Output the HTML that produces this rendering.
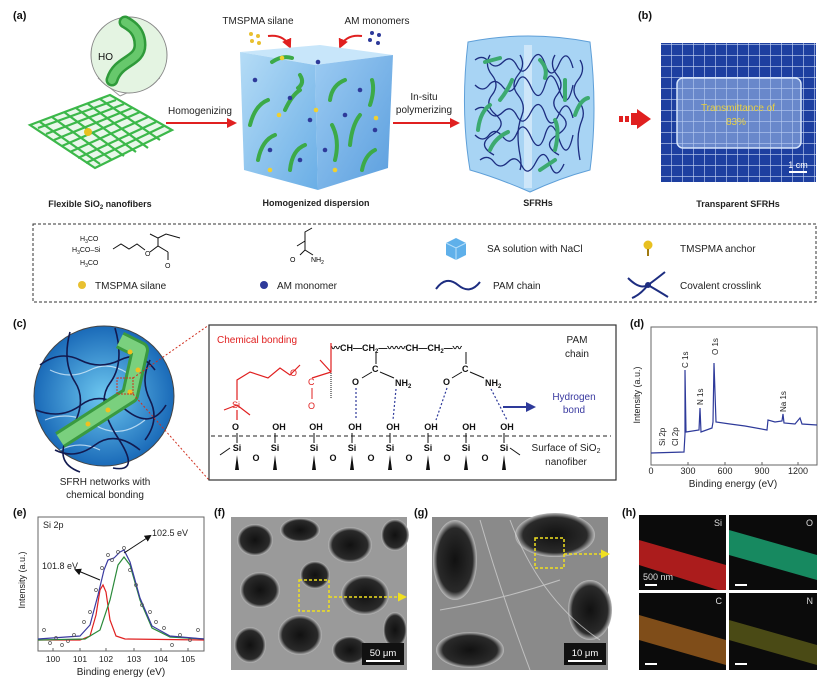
<!DOCTYPE html>
<html><head><meta charset="utf-8"><style>
html,body{margin:0;padding:0;background:#fff}
svg{display:block}
text{font-family:"Liberation Sans",Arial,sans-serif}
</style></head><body>
<svg width="826" height="681" viewBox="0 0 826 681" xmlns="http://www.w3.org/2000/svg">
<defs>
<pattern id="grid" width="11" height="11" patternUnits="userSpaceOnUse"><rect width="11" height="11" fill="#1d3fa0"/><path d="M0 0H11M0 0V11" stroke="#c9d6f5" stroke-width="1.2"/></pattern>
<linearGradient id="cubeF" x1="0" y1="0" x2="1" y2="1"><stop offset="0" stop-color="#b5dcf6"/><stop offset="1" stop-color="#6aaee6"/></linearGradient>
<linearGradient id="cubeS" x1="0" y1="0" x2="1" y2="1"><stop offset="0" stop-color="#9ccbf2"/><stop offset="1" stop-color="#5a9ede"/></linearGradient>
<radialGradient id="water" cx="0.5" cy="0.5" r="0.5"><stop offset="0" stop-color="#6ec8f0"/><stop offset="1" stop-color="#1a6ab8"/></radialGradient>
<radialGradient id="hole" cx="0.5" cy="0.5" r="0.5"><stop offset="0" stop-color="#111"/><stop offset="0.8" stop-color="#2a2a2a"/><stop offset="1" stop-color="#bbb"/></radialGradient>
<marker id="ra" markerUnits="userSpaceOnUse" markerWidth="10" markerHeight="10" refX="8" refY="5" orient="auto"><path d="M0,0 L10,5 L0,10 z" fill="#e02020"/></marker>
<marker id="ba" markerUnits="userSpaceOnUse" markerWidth="10" markerHeight="10" refX="8" refY="5" orient="auto"><path d="M0,0 L10,5 L0,10 z" fill="#2e3a9a"/></marker>
<marker id="ka" markerUnits="userSpaceOnUse" markerWidth="7" markerHeight="7" refX="5" refY="3.5" orient="auto"><path d="M0,0 L7,3.5 L0,7 z" fill="#111"/></marker>
<marker id="ya" markerUnits="userSpaceOnUse" markerWidth="9" markerHeight="9" refX="7" refY="4.5" orient="auto"><path d="M0,0 L9,4.5 L0,9 z" fill="#f0e020"/></marker>
</defs>

<g font-size="11" font-weight="bold" fill="#111">
<text x="13" y="19">(a)</text><text x="638" y="19">(b)</text>
<text x="13" y="327">(c)</text><text x="630" y="327">(d)</text>
<text x="13" y="516">(e)</text><text x="214" y="516">(f)</text>
<text x="414" y="516">(g)</text><text x="622" y="516">(h)</text>
</g>

<g stroke="#3cb84a" stroke-width="2.2" fill="none">
<path d="M30 125 L110 95 L172 130 L95 168 Z" fill="#bfe9c2" fill-opacity="0.35"/>
<path d="M38 128 L116 100 M46 134 L124 104 M54 140 L132 108 M62 146 L140 112 M70 152 L148 117 M78 158 L156 122 M86 163 L164 126"/>
<path d="M40 122 L100 164 M52 117 L112 160 M64 112 L124 156 M76 108 L136 152 M88 104 L148 148 M100 99 L160 140"/>
</g>
<circle cx="88" cy="132" r="4" fill="#e8c020"/>
<path d="M98 78 L120 96 M160 78 L120 96" stroke="#999" stroke-width="1"/>
<circle cx="129" cy="55" r="38" fill="#e4f4e2" stroke="#888" stroke-width="1"/>
<path d="M112 80 C118 60,140 62,140 45 C140 30,130 25,125 22" stroke="#2f9a3a" stroke-width="13" fill="none" stroke-linecap="round"/>
<path d="M112 80 C118 60,140 62,140 45 C140 30,130 25,125 22" stroke="#67c86c" stroke-width="8" fill="none" stroke-linecap="round"/>
<text x="98" y="60" font-size="10" fill="#111">HO</text>
<text x="100" y="207" font-size="9" font-weight="bold" text-anchor="middle" fill="#222">Flexible SiO<tspan font-size="6" dy="2">2</tspan><tspan dy="-2"> nanofibers</tspan></text>

<text x="200" y="114" font-size="10" text-anchor="middle" fill="#222">Homogenizing</text>
<line x1="166" y1="123" x2="235" y2="123" stroke="#e02020" stroke-width="2" marker-end="url(#ra)"/>

<text x="258" y="24" font-size="10" text-anchor="middle" fill="#222">TMSPMA silane</text>
<text x="377" y="24" font-size="10" text-anchor="middle" fill="#222">AM monomers</text>
<g fill="#e8c030"><circle cx="251" cy="34" r="2"/><circle cx="258" cy="36" r="2"/><circle cx="252" cy="41" r="2"/><circle cx="259" cy="43" r="2"/></g>
<g fill="#2e3a9a"><circle cx="372" cy="33" r="2"/><circle cx="379" cy="35" r="2"/><circle cx="370" cy="40" r="2"/><circle cx="378" cy="43" r="2"/></g>
<path d="M268 36 Q284 34 290 47" stroke="#e02020" stroke-width="2" fill="none" marker-end="url(#ra)"/>
<path d="M362 36 Q346 34 340 47" stroke="#e02020" stroke-width="2" fill="none" marker-end="url(#ra)"/>
<path d="M240 52 L320 45 L393 55 L315 65 Z" fill="#c8e6fa"/>
<path d="M240 52 L315 65 L318 190 L244 170 Z" fill="url(#cubeF)"/>
<path d="M315 65 L393 55 L388 168 L318 190 Z" fill="url(#cubeS)"/>
<g stroke="#3caa48" stroke-width="4" fill="none" stroke-linecap="round">
<path d="M272 62 Q282 55 292 58"/><path d="M300 75 Q305 83 298 88"/><path d="M250 125 Q255 105 268 100"/><path d="M285 110 Q292 95 300 90"/>
<path d="M258 160 Q262 140 275 135"/><path d="M290 170 Q292 150 305 145"/><path d="M330 100 Q332 85 345 80"/><path d="M350 145 Q352 125 360 115"/>
<path d="M335 160 Q340 140 332 125"/><path d="M370 105 Q375 90 372 80"/><path d="M362 170 Q365 155 375 150"/>
</g>
<g fill="#2e3a9a"><circle cx="255" cy="80" r="2.3"/><circle cx="290" cy="98" r="2.3"/><circle cx="310" cy="120" r="2.3"/><circle cx="270" cy="150" r="2.3"/><circle cx="345" cy="115" r="2.3"/><circle cx="375" cy="130" r="2.3"/><circle cx="325" cy="150" r="2.3"/><circle cx="300" cy="160" r="2.3"/><circle cx="360" cy="90" r="2.3"/><circle cx="318" cy="62" r="2.3"/></g>
<g fill="#f0d030"><circle cx="282" cy="58" r="2.3"/><circle cx="316" cy="110" r="2.3"/><circle cx="279" cy="115" r="2.3"/><circle cx="376" cy="118" r="2.3"/><circle cx="335" cy="170" r="2.3"/><circle cx="270" cy="170" r="2.3"/></g>
<text x="316" y="206" font-size="9" font-weight="bold" text-anchor="middle" fill="#222">Homogenized dispersion</text>

<text x="424" y="100" font-size="10" text-anchor="middle" fill="#222">In-situ</text>
<text x="424" y="113" font-size="10" text-anchor="middle" fill="#222">polymerizing</text>
<line x1="393" y1="123" x2="458" y2="123" stroke="#e02020" stroke-width="2" marker-end="url(#ra)"/>

<path d="M468 42 Q528 30 590 42 Q598 110 590 170 Q560 178 530 192 Q498 178 470 170 Q460 110 468 42Z" fill="#a8d4f4" stroke="#5e9fd8" stroke-width="1"/>
<path d="M528 45 L528 188" stroke="#e6f3fd" stroke-width="8" opacity="0.6"/>
<g stroke="#1d2d80" stroke-width="1.3" fill="none">
<path d="M475 60 q8 -6 14 2 t14 0 t14 4 t14 -4 t14 2 t14 0 t14 4"/>
<path d="M475 85 q8 8 14 0 t14 2 t14 -4 t14 4 t14 -2 t14 4 t14 -4"/>
<path d="M475 110 q8 -6 14 2 t14 0 t14 4 t14 -4 t14 2 t14 0 t14 4"/>
<path d="M475 135 q8 8 14 0 t14 2 t14 -4 t14 4 t14 -2 t14 4 t14 -4"/>
<path d="M480 160 q8 -6 14 2 t14 0 t14 4 t14 -4 t14 2 t14 0"/>
<path d="M490 55 q-6 10 2 20 t0 20 t4 20 t-4 20 t2 20"/>
<path d="M520 55 q6 10 -2 20 t0 20 t4 20 t-4 20 t2 20 t0 15"/>
<path d="M555 55 q-6 10 2 20 t0 20 t4 20 t-4 20 t2 20"/>
<path d="M580 60 q6 10 -2 20 t0 20 t4 20 t-4 20 t2 20"/>
</g>
<g stroke="#3caa70" stroke-width="4" fill="none" stroke-linecap="round">
<path d="M485 62 L500 58"/><path d="M540 60 Q548 68 545 78"/><path d="M500 100 Q508 90 512 80"/><path d="M478 130 Q480 112 490 105"/>
<path d="M565 80 L565 100"/><path d="M575 115 Q580 100 588 98"/><path d="M490 150 Q495 138 508 132"/><path d="M555 150 Q560 130 555 120"/><path d="M540 170 L555 160"/>
</g>
<text x="538" y="206" font-size="9" font-weight="bold" text-anchor="middle" fill="#222">SFRHs</text>

<path d="M619 116 h4 v6 h-4z M625 116 h4 v6 h-4z M631 113 h6 v-4 l14 10 l-14 10 v-4 h-6z" fill="#e02020"/>
<rect x="661" y="43" width="155" height="139" fill="url(#grid)"/>
<rect x="677" y="78" width="124" height="70" rx="6" fill="#a8c4ee" fill-opacity="0.55" stroke="#d7e6fb" stroke-width="1.5"/>
<text x="738" y="111" font-size="10" text-anchor="middle" fill="#e8d040">Transmittance of</text>
<text x="736" y="125" font-size="10" text-anchor="middle" fill="#e8d040">83%</text>
<text x="798" y="168" font-size="9" text-anchor="middle" fill="#fff">1 cm</text>
<line x1="789" y1="172" x2="807" y2="172" stroke="#fff" stroke-width="2"/>
<text x="738" y="207" font-size="9" font-weight="bold" text-anchor="middle" fill="#222">Transparent SFRHs</text>

<rect x="33" y="224" width="783" height="78" fill="none" stroke="#333" stroke-width="1" stroke-dasharray="3,2"/>
<g font-size="7" fill="#111">
<text x="80" y="241">H<tspan font-size="5" dy="2">3</tspan><tspan dy="-2">CO</tspan></text>
<text x="72" y="252">H<tspan font-size="5" dy="2">3</tspan><tspan dy="-2">CO–Si</tspan></text>
<text x="80" y="265">H<tspan font-size="5" dy="2">3</tspan><tspan dy="-2">CO</tspan></text>
<text x="145" y="256">O</text><text x="165" y="268">O</text>
</g>
<path d="M113 249 L121 244 L129 249 L137 244 L145 250 M150 252 L158 246 L168 252 M158 246 L158 238 L150 234 M158 238 L166 234 L180 238 M168 252 L168 260" stroke="#111" stroke-width="1" fill="none"/>
<path d="M297 246 L305 241 L305 232 L312 228 M300 255 L305 250 L313 255 M305 250 L305 241" stroke="#111" stroke-width="1" fill="none"/>
<text x="290" y="262" font-size="7">O</text><text x="311" y="262" font-size="7">NH<tspan font-size="5" dy="2">2</tspan></text>
<circle cx="82" cy="285" r="4" fill="#e8c030"/>
<text x="95" y="289" font-size="10" fill="#222">TMSPMA silane</text>
<circle cx="264" cy="285" r="4" fill="#2e3a9a"/>
<text x="277" y="289" font-size="10" fill="#222">AM monomer</text>
<path d="M446 243 L456 238 L466 243 L466 255 L456 260 L446 255Z" fill="#5fb0ea"/><path d="M446 243 L456 248 L466 243 M456 248 V260" stroke="#b8e0fa" fill="none"/>
<text x="487" y="252" font-size="10" fill="#222">SA solution with NaCl</text>
<path d="M436 289 Q446 275 458 285 T480 282" stroke="#1d2d80" stroke-width="2" fill="none"/>
<text x="493" y="289" font-size="10" fill="#222">PAM chain</text>
<circle cx="648" cy="245" r="4.5" fill="#e8c020"/><line x1="648" y1="249" x2="648" y2="256" stroke="#a07a10" stroke-width="2"/>
<text x="680" y="252" font-size="10" fill="#222">TMSPMA anchor</text>
<path d="M628 278 Q640 290 648 285 Q655 280 665 272 M648 285 Q640 295 632 298 M648 285 Q660 292 668 297" stroke="#1d2d80" stroke-width="2" fill="none"/><circle cx="648" cy="285" r="3" fill="#1d2d80"/>
<text x="680" y="289" font-size="10" fill="#222">Covalent crosslink</text>

<circle cx="104" cy="396" r="70" fill="url(#water)" stroke="#444" stroke-width="1"/>
<g stroke="#e8f6ff" stroke-width="1.2" fill="none" opacity="0.7"><path d="M50 370 q20 10 40 0 t40 5"/><path d="M45 420 q25 -10 50 5 t50 -5"/><path d="M60 450 q20 -10 40 0"/></g>
<g stroke="#121a50" stroke-width="1.6" fill="none">
<path d="M40 365 q20 -15 40 -5 t40 0 t35 10"/><path d="M36 410 q25 10 45 -5 t45 5 t40 -5"/><path d="M55 450 q20 10 40 -5 t45 5"/>
<path d="M70 332 q-8 30 5 50 t-5 50 t10 40"/><path d="M115 328 q10 35 -5 55 t8 55 t-5 30"/><path d="M150 360 q-10 20 0 40 t-5 40"/>
</g>
<path d="M60 440 L130 395 L140 350 L120 340" stroke="#3a9a40" stroke-width="18" fill="none" stroke-linejoin="round"/>
<path d="M60 440 L130 395 L140 350 L120 340" stroke="#7ad07e" stroke-width="12" fill="none" stroke-linejoin="round"/>
<g fill="#f0c020"><circle cx="88" cy="424" r="2.5"/><circle cx="108" cy="410" r="2.5"/><circle cx="130" cy="392" r="2.5"/><circle cx="138" cy="370" r="2.5"/><circle cx="130" cy="352" r="2.5"/></g>
<rect x="117" y="378" width="16" height="16" fill="none" stroke="#d03020" stroke-dasharray="2,1"/>
<line x1="133" y1="378" x2="209" y2="325" stroke="#d03020" stroke-dasharray="2,2"/>
<line x1="133" y1="394" x2="209" y2="480" stroke="#d03020" stroke-dasharray="2,2"/>
<text x="105" y="485" font-size="10" text-anchor="middle" fill="#222">SFRH networks with</text>
<text x="105" y="498" font-size="10" text-anchor="middle" fill="#222">chemical bonding</text>

<rect x="209" y="325" width="407" height="155" fill="#fff" stroke="#333" stroke-width="1.2"/>
<text x="217" y="343" font-size="10" fill="#e02020">Chemical bonding</text>
<text x="331" y="351" font-size="9" font-weight="bold" fill="#111">〰CH—CH<tspan font-size="6" dy="2">2</tspan><tspan dy="-2">—〰〰CH—CH</tspan><tspan font-size="6" dy="2">2</tspan><tspan dy="-2">—〰</tspan></text>
<text x="577" y="343" font-size="10" text-anchor="middle" fill="#222">PAM</text>
<text x="577" y="357" font-size="10" text-anchor="middle" fill="#222">chain</text>
<path d="M331 343 L331 398" stroke="#111" stroke-width="1" stroke-dasharray="1,1"/>
<path d="M331 343 L331 372 L312 378 M331 372 L320 360 M300 365 L290 375 L280 368 L268 378 L250 372 L237 380 L237 400 M224 410 L237 405 L250 415 M237 410 L237 420" stroke="#e02020" stroke-width="1.2" fill="none"/>
<text x="290" y="376" font-size="9" fill="#e02020">O</text>
<text x="308" y="385" font-size="9" fill="#e02020">C</text>
<text x="308" y="409" font-size="9" fill="#e02020">O</text>
<line x1="312" y1="388" x2="312" y2="399" stroke="#e02020"/>
<text x="232" y="408" font-size="9" fill="#e02020">Si</text>
<text x="232" y="430" font-size="9" font-weight="bold" fill="#111">O</text>
<g stroke="#111" stroke-width="1"><line x1="376" y1="352" x2="376" y2="364"/><line x1="466" y1="352" x2="466" y2="364"/><line x1="372" y1="372" x2="362" y2="378"/><line x1="380" y1="372" x2="394" y2="378"/><line x1="462" y1="372" x2="452" y2="378"/><line x1="470" y1="372" x2="484" y2="378"/></g>
<g font-size="9" font-weight="bold" fill="#111">
<text x="372" y="372">C</text><text x="462" y="372">C</text>
<text x="352" y="385">O</text><text x="395" y="386">NH<tspan font-size="6" dy="2">2</tspan></text>
<text x="443" y="385">O</text><text x="485" y="386">NH<tspan font-size="6" dy="2">2</tspan></text>
</g>
<g stroke="#2e3a9a" stroke-width="1.2" stroke-dasharray="2,2"><line x1="356" y1="388" x2="356" y2="420"/><line x1="396" y1="389" x2="393" y2="420"/><line x1="447" y1="388" x2="436" y2="420"/><line x1="491" y1="389" x2="507" y2="420"/></g>
<text x="574" y="400" font-size="10" text-anchor="middle" fill="#3a3aa0">Hydrogen</text>
<text x="574" y="413" font-size="10" text-anchor="middle" fill="#3a3aa0">bond</text>
<line x1="503" y1="407" x2="534" y2="407" stroke="#2e3a9a" stroke-width="2" marker-end="url(#ba)"/>
<g font-size="9" font-weight="bold" fill="#111" text-anchor="middle">
<text x="279" y="430">OH</text><text x="316" y="430">OH</text><text x="355" y="430">OH</text><text x="393" y="430">OH</text><text x="431" y="430">OH</text><text x="469" y="430">OH</text><text x="507" y="430">OH</text>
</g>
<line x1="211" y1="436" x2="611" y2="436" stroke="#222" stroke-dasharray="4,3"/>
<g font-size="9" font-weight="bold" fill="#111" text-anchor="middle">
<text x="237" y="451">Si</text><text x="275" y="451">Si</text><text x="314" y="451">Si</text><text x="352" y="451">Si</text><text x="390" y="451">Si</text><text x="428" y="451">Si</text><text x="466" y="451">Si</text><text x="504" y="451">Si</text>
<text x="256" y="461">O</text><text x="333" y="461">O</text><text x="371" y="461">O</text><text x="409" y="461">O</text><text x="447" y="461">O</text><text x="485" y="461">O</text>
</g>
<g fill="#111"><path d="M235 470 L239 470 L237 455Z"/><path d="M273 470 L277 470 L275 455Z"/><path d="M312 470 L316 470 L314 455Z"/><path d="M350 470 L354 470 L352 455Z"/><path d="M388 470 L392 470 L390 455Z"/><path d="M426 470 L430 470 L428 455Z"/><path d="M464 470 L468 470 L466 455Z"/><path d="M502 470 L506 470 L504 455Z"/></g>
<g stroke="#111" stroke-width="1"><line x1="237" y1="433" x2="237" y2="443"/><line x1="275" y1="433" x2="275" y2="443"/><line x1="314" y1="433" x2="314" y2="443"/><line x1="352" y1="433" x2="352" y2="443"/><line x1="390" y1="433" x2="390" y2="443"/><line x1="428" y1="433" x2="428" y2="443"/><line x1="466" y1="433" x2="466" y2="443"/><line x1="504" y1="433" x2="504" y2="443"/><line x1="220" y1="455" x2="230" y2="448"/><line x1="510" y1="448" x2="520" y2="455"/></g>
<text x="566" y="451" font-size="10" text-anchor="middle" fill="#222">Surface of SiO<tspan font-size="7" dy="2">2</tspan></text>
<text x="566" y="465" font-size="10" text-anchor="middle" fill="#222">nanofiber</text>

<rect x="651" y="327" width="166" height="138" fill="none" stroke="#666" stroke-width="1"/>
<path d="M651 453 L684 452 L685 434 L685 370 L686 432 L699 430 L700 408 L701 432 L712 428 L713 422 L714 363 L716 422 L730 424 L745 426 L767 430 L768 420 L775 422 L782 421 L783 414 L784 423 L795 424 L800 418 L802 424 L817 425" stroke="#2e3a9a" stroke-width="1.2" fill="none"/>
<g stroke="#666"><line x1="651" y1="465" x2="651" y2="462"/><line x1="688" y1="465" x2="688" y2="462"/><line x1="725" y1="465" x2="725" y2="462"/><line x1="762" y1="465" x2="762" y2="462"/><line x1="798" y1="465" x2="798" y2="462"/></g>
<g font-size="9" fill="#222" text-anchor="middle"><text x="651" y="474">0</text><text x="688" y="474">300</text><text x="725" y="474">600</text><text x="762" y="474">900</text><text x="798" y="474">1200</text></g>
<text x="733" y="487" font-size="10" text-anchor="middle" fill="#222">Binding energy (eV)</text>
<text transform="translate(640,395) rotate(-90)" font-size="9" text-anchor="middle" fill="#222">Intensity (a.u.)</text>
<g font-size="8" fill="#222">
<text transform="translate(665,446) rotate(-90)">Si 2p</text>
<text transform="translate(678,446) rotate(-90)">Cl 2p</text>
<text transform="translate(688,368) rotate(-90)">C 1s</text>
<text transform="translate(703,405) rotate(-90)">N 1s</text>
<text transform="translate(718,355) rotate(-90)">O 1s</text>
<text transform="translate(786,412) rotate(-90)">Na 1s</text>
</g>

<rect x="38" y="517" width="166" height="134" fill="none" stroke="#666" stroke-width="1"/>
<path d="M38 640 L80 640 L90 636 L96 615 L100 590 L103 585 L106 592 L110 620 L116 636 L125 639 L204 640" stroke="#e02020" stroke-width="1.2" fill="none"/>
<path d="M38 640 L85 639 L100 630 L110 600 L118 565 L124 557 L130 565 L140 600 L152 628 L170 637 L204 639" stroke="#2a8a3a" stroke-width="1.2" fill="none"/>
<path d="M38 639 L80 636 L90 625 L98 595 L104 570 L108 560 L114 558 L120 552 L124 550 L130 562 L140 598 L152 626 L170 636 L204 639" stroke="#3a3aa0" stroke-width="1.2" fill="none"/>
<g fill="none" stroke="#555" stroke-width="0.7">
<circle cx="44" cy="630" r="1.5"/><circle cx="50" cy="643" r="1.5"/><circle cx="56" cy="638" r="1.5"/><circle cx="62" cy="645" r="1.5"/><circle cx="68" cy="641" r="1.5"/><circle cx="74" cy="635" r="1.5"/><circle cx="84" cy="622" r="1.5"/><circle cx="90" cy="612" r="1.5"/><circle cx="96" cy="590" r="1.5"/><circle cx="102" cy="568" r="1.5"/><circle cx="108" cy="555" r="1.5"/><circle cx="112" cy="560" r="1.5"/><circle cx="118" cy="552" r="1.5"/><circle cx="124" cy="548" r="1.5"/><circle cx="130" cy="570" r="1.5"/><circle cx="136" cy="585" r="1.5"/><circle cx="142" cy="605" r="1.5"/><circle cx="150" cy="612" r="1.5"/><circle cx="156" cy="622" r="1.5"/><circle cx="164" cy="628" r="1.5"/><circle cx="172" cy="645" r="1.5"/><circle cx="180" cy="635" r="1.5"/><circle cx="190" cy="640" r="1.5"/><circle cx="198" cy="630" r="1.5"/>
</g>
<line x1="100" y1="580" x2="76" y2="570" stroke="#111" marker-end="url(#ka)"/>
<line x1="124" y1="553" x2="150" y2="536" stroke="#111" marker-end="url(#ka)"/>
<text x="43" y="528" font-size="9" fill="#222">Si 2p</text>
<text x="152" y="536" font-size="9" fill="#222">102.5 eV</text>
<text x="42" y="569" font-size="9" fill="#222">101.8 eV</text>
<g stroke="#666"><line x1="53" y1="651" x2="53" y2="648"/><line x1="80" y1="651" x2="80" y2="648"/><line x1="106" y1="651" x2="106" y2="648"/><line x1="134" y1="651" x2="134" y2="648"/><line x1="161" y1="651" x2="161" y2="648"/><line x1="188" y1="651" x2="188" y2="648"/></g>
<g font-size="8.5" fill="#222" text-anchor="middle"><text x="53" y="662">100</text><text x="80" y="662">101</text><text x="106" y="662">102</text><text x="134" y="662">103</text><text x="161" y="662">104</text><text x="188" y="662">105</text></g>
<text x="121" y="675" font-size="10" text-anchor="middle" fill="#222">Binding energy (eV)</text>
<text transform="translate(25,580) rotate(-90)" font-size="9" text-anchor="middle" fill="#222">Intensity (a.u.)</text>

<rect x="231" y="517" width="176" height="153" fill="#9a9a9a"/>
<g fill="url(#hole)">
<ellipse cx="255" cy="540" rx="18" ry="16"/><ellipse cx="300" cy="530" rx="20" ry="12"/><ellipse cx="350" cy="545" rx="22" ry="18"/><ellipse cx="395" cy="535" rx="14" ry="16"/>
<ellipse cx="260" cy="590" rx="20" ry="18"/><ellipse cx="315" cy="575" rx="15" ry="14"/><ellipse cx="365" cy="595" rx="24" ry="20"/>
<ellipse cx="250" cy="645" rx="16" ry="18"/><ellipse cx="300" cy="635" rx="22" ry="20"/><ellipse cx="350" cy="650" rx="18" ry="14"/><ellipse cx="395" cy="630" rx="12" ry="18"/>
</g>
<rect x="299" y="580" width="30" height="31" fill="none" stroke="#f0e020" stroke-width="1.5" stroke-dasharray="3,2"/>
<line x1="329" y1="597" x2="405" y2="597" stroke="#f0e020" stroke-width="1.5" stroke-dasharray="3,2" marker-end="url(#ya)"/>
<rect x="362" y="643" width="42" height="22" fill="#111"/>
<text x="383" y="656" font-size="9.5" text-anchor="middle" fill="#fff">50 μm</text>
<line x1="366" y1="661" x2="400" y2="661" stroke="#fff" stroke-width="2"/>

<rect x="432" y="517" width="176" height="153" fill="#8a8a8a"/>
<g fill="url(#hole)">
<ellipse cx="455" cy="560" rx="22" ry="40"/><ellipse cx="555" cy="535" rx="40" ry="22"/><ellipse cx="590" cy="610" rx="22" ry="30"/><ellipse cx="470" cy="650" rx="34" ry="18"/>
</g>
<g stroke="#d8d8d8" stroke-width="1" fill="none" opacity="0.7"><path d="M480 520 Q500 590 530 670"/><path d="M510 520 Q540 600 600 640"/><path d="M440 610 Q500 600 560 580"/></g>
<rect x="535" y="538" width="29" height="30" fill="none" stroke="#f0e020" stroke-width="1.5" stroke-dasharray="3,2"/>
<line x1="564" y1="554" x2="608" y2="554" stroke="#f0e020" stroke-width="1.5" stroke-dasharray="3,2" marker-end="url(#ya)"/>
<rect x="564" y="643" width="42" height="22" fill="#111"/>
<text x="585" y="656" font-size="9.5" text-anchor="middle" fill="#fff">10 μm</text>
<line x1="568" y1="661" x2="602" y2="661" stroke="#fff" stroke-width="2"/>

<rect x="639" y="515" width="87" height="75" fill="#0b0b0b"/>
<rect x="729" y="515" width="88" height="75" fill="#0b0b0b"/>
<rect x="639" y="593" width="87" height="77" fill="#0b0b0b"/>
<rect x="729" y="593" width="88" height="77" fill="#0b0b0b"/>
<path d="M639 540 L726 565 L726 590 L718 590 L639 565Z" fill="#c82020" opacity="0.85"/>
<path d="M729 530 L817 555 L817 580 L729 555Z" fill="#1aa070" opacity="0.85"/>
<path d="M639 615 L726 640 L726 665 L639 640Z" fill="#b06a20" opacity="0.7"/>
<path d="M729 620 L817 645 L817 665 L729 640Z" fill="#8a8a20" opacity="0.5"/>
<g font-size="9" fill="#ddd" text-anchor="end"><text x="722" y="526">Si</text><text x="813" y="526">O</text><text x="722" y="604">C</text><text x="813" y="604">N</text></g>
<text x="643" y="580" font-size="9" fill="#ddd">500 nm</text>
<g stroke="#fff" stroke-width="2"><line x1="645" y1="585" x2="657" y2="585"/><line x1="735" y1="585" x2="747" y2="585"/><line x1="645" y1="664" x2="657" y2="664"/><line x1="735" y1="664" x2="747" y2="664"/></g>
</svg>
</body></html>
